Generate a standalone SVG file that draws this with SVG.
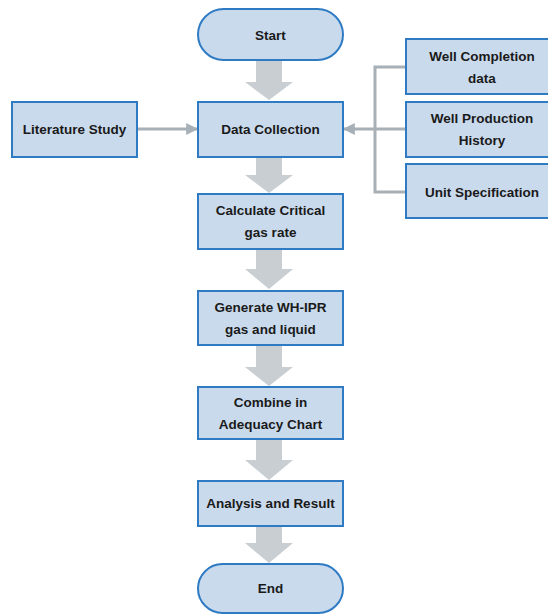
<svg xmlns="http://www.w3.org/2000/svg" width="548" height="615" viewBox="0 0 548 615">
<defs>
<style>
.box{fill:#cadaed;stroke:#2e7bc4;stroke-width:2}
.t{font-family:"Liberation Sans",Arial,sans-serif;font-weight:bold;font-size:13.5px;fill:#1a1a1a;text-anchor:middle;dominant-baseline:central}
.big{fill:#c8ced2}
.ln{fill:none;stroke:#a7b0b6;stroke-width:3}
</style>
<marker id="ah" viewBox="0 0 10 10" refX="9" refY="5" markerWidth="4" markerHeight="4" orient="auto" markerUnits="strokeWidth">
<path d="M0,0 L10,5 L0,10 z" fill="#a7b0b6"/>
</marker>
</defs>
<rect width="548" height="615" fill="#ffffff"/>
<g id="connectors">
<polygon class="big" points="256,60 282,60 282,82 293,82 269,100 245,82 256,82"/>
<polygon class="big" points="256,157 282,157 282,175 293,175 269,193 245,175 256,175"/>
<polygon class="big" points="256,249 282,249 282,269 293,269 269,289 245,269 256,269"/>
<polygon class="big" points="256,345 282,345 282,367 293,367 269,386 245,367 256,367"/>
<polygon class="big" points="256,439 282,439 282,460 293,460 269,480 245,460 256,460"/>
<polygon class="big" points="256,526 282,526 282,543 293,543 269,563 245,543 256,543"/>
<line class="ln" x1="137" y1="129" x2="197" y2="129" marker-end="url(#ah)"/>
<polyline class="ln" points="406,67 375,67 375,192 406,192"/>
<line class="ln" x1="406" y1="129" x2="344" y2="129" marker-end="url(#ah)"/>
</g>
<g id="start"><rect class="box" x="198" y="9" width="145" height="51" rx="25.5"/><text class="t" x="270.5" y="35">Start</text></g>
<g id="literature"><rect class="box" x="12" y="102" width="125" height="55"/><text class="t" x="74.5" y="129.5">Literature Study</text></g>
<g id="datacollection"><rect class="box" x="198" y="102" width="145" height="55"/><text class="t" x="270.5" y="129.5">Data Collection</text></g>
<g id="wellcompletion"><rect class="box" x="406" y="39" width="155" height="55"/><text class="t" x="482" y="56">Well Completion</text><text class="t" x="482" y="78">data</text></g>
<g id="wellproduction"><rect class="box" x="406" y="102" width="155" height="55"/><text class="t" x="482" y="118">Well Production</text><text class="t" x="482" y="140">History</text></g>
<g id="unitspec"><rect class="box" x="406" y="164" width="155" height="54"/><text class="t" x="482" y="192">Unit Specification</text></g>
<g id="critical"><rect class="box" x="198" y="194" width="145" height="55"/><text class="t" x="270.5" y="210">Calculate Critical</text><text class="t" x="270.5" y="232">gas rate</text></g>
<g id="whipr"><rect class="box" x="198" y="291" width="145" height="54"/><text class="t" x="270.5" y="307">Generate WH-IPR</text><text class="t" x="270.5" y="329">gas and liquid</text></g>
<g id="combine"><rect class="box" x="198" y="387" width="145" height="52"/><text class="t" x="270.5" y="402">Combine in</text><text class="t" x="270.5" y="424">Adequacy Chart</text></g>
<g id="analysis"><rect class="box" x="198" y="481" width="145" height="45"/><text class="t" x="270.5" y="503.5">Analysis and Result</text></g>
<g id="end"><rect class="box" x="198" y="564" width="145" height="49" rx="24.5"/><text class="t" x="270.5" y="588.5">End</text></g>
</svg>
